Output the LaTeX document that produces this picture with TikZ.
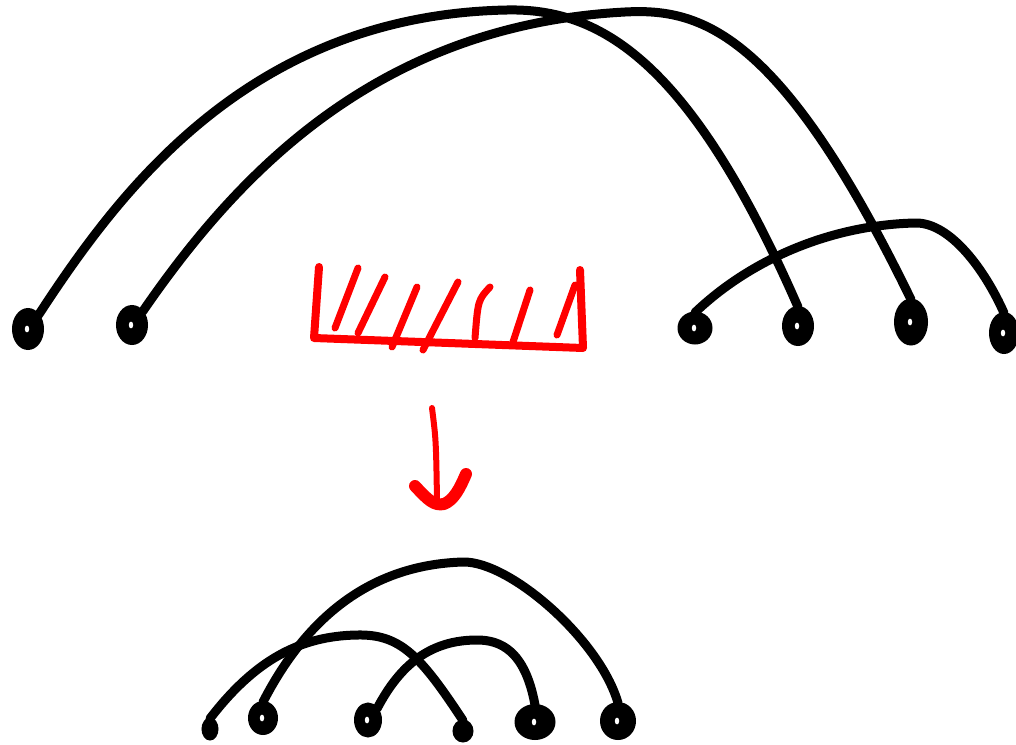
\documentclass[tikz,border=0pt]{standalone}
\usetikzlibrary{shapes.geometric}
\begin{document}
\begin{tikzpicture}[x=1pt,y=-1pt,
  blob/.style={ellipse,fill=black,draw=black,line width=2pt,inner sep=0pt,outer sep=0pt},
  holed/.style={blob,path picture={\fill[white] ([xshift=-1pt]path picture bounding box.center) ellipse (2.2pt and 3.4pt);}},
  arc/.style={line width=9pt,line cap=round,line join=round},
  redline/.style={red,line width=8pt,line cap=round,line join=round},
  hatch/.style={red,line width=7pt,line cap=round}]
\useasboundingbox (0,0) rectangle (1016,744);
% top row dots
\node[holed,minimum width=30pt,minimum height=40pt] (d1) at (28,329) {};
\node[holed,minimum width=30pt,minimum height=38pt] (d2) at (132,325) {};
\node[holed,minimum width=33pt,minimum height=31pt] (d3) at (695,328) {};
\node[holed,minimum width=30pt,minimum height=38pt] (d4) at (798,326) {};
\node[holed,minimum width=32pt,minimum height=45pt] (d5) at (911,322) {};
\node[holed,minimum width=28pt,minimum height=40pt] (d6) at (1004,333) {};
% top arcs
\draw[arc] (d1.north east) .. controls (120,190) and (250,15) .. (507,10)
  .. controls (600,8) and (690,60) .. (d4.north);
\draw[arc] (d2.north east) .. controls (240,170) and (380,25) .. (625,12)
  .. controls (700,8) and (780,30) .. (d5.north);
\draw[arc] (d3.north) .. controls (750,260) and (830,225) .. (915,223)
  .. controls (950,222) and (985,270) .. (d6.north);
% red bracket with hatching
\draw[redline] (319,267) -- (314,338) -- (583,348) -- (580,270);
\draw[hatch] (358,268) -- (335,328);
\draw[hatch] (385,277) -- (358,333);
\draw[hatch] (417,287) -- (392,347);
\draw[hatch] (458,282) -- (423,350);
\draw[hatch] (490,287) .. controls (478,300) .. (475,338);
\draw[hatch] (530,290) -- (513,342);
\draw[hatch] (575,285) -- (557,335);
% red arrow
\coordinate (atop) at (432,408);
\coordinate (atip) at (437,500);
\draw[red,line width=6pt,line cap=round] (atop) .. controls (436,440) .. (atip);
\draw[red,line width=12pt,line cap=round,line join=round] (415,486) .. controls (428,500) and (434,506) .. (444,504) .. controls (454,500) and (460,488) .. (466,474);
% bottom dots
\node[blob,minimum width=15pt,minimum height=21pt] (b1) at (210,729) {};
\node[holed,minimum width=28pt,minimum height=32pt] (b2) at (263,718) {};
\node[holed,minimum width=26pt,minimum height=33pt] (b3) at (368,720) {};
\node[blob,minimum width=19pt,minimum height=21pt] (b4) at (463,731) {};
\node[holed,minimum width=39pt,minimum height=34pt] (b5) at (535,722) {};
\node[holed,minimum width=34pt,minimum height=36pt] (b6) at (618,721) {};
% bottom arcs
\draw[arc] (b1.north) .. controls (255,660) and (300,636) .. (357,635)
  .. controls (400,634) and (420,655) .. (b4.north);
\draw[arc] (b2.north) .. controls (300,630) and (360,565) .. (463,562)
  .. controls (510,561) and (600,640) .. (b6.north);
\draw[arc] (b3.north east) .. controls (400,665) and (430,640) .. (477,640)
  .. controls (500,640) and (525,650) .. (b5.north);
\end{tikzpicture}
\end{document}
